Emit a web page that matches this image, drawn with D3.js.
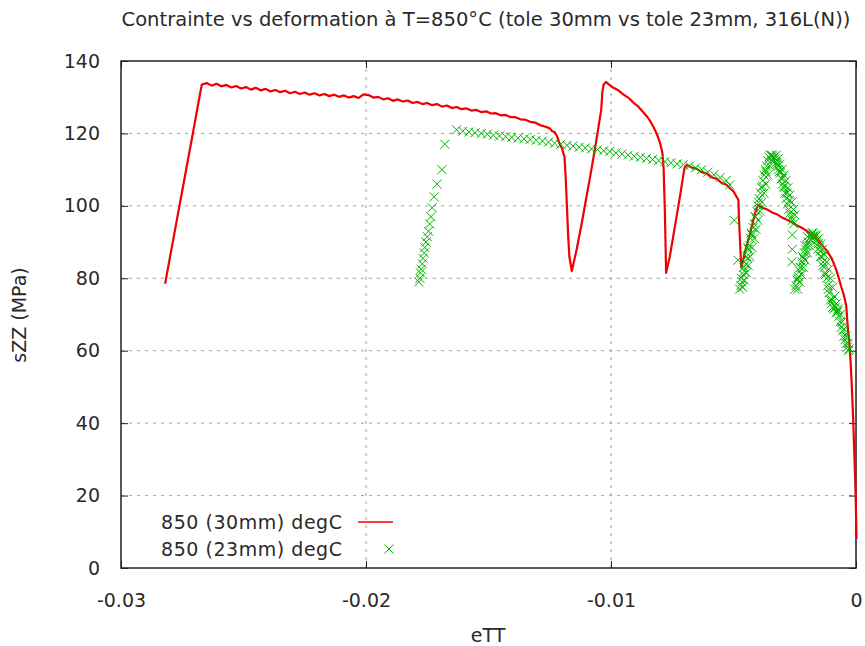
<!DOCTYPE html>
<html lang="fr">
<head>
	<meta charset="UTF-8">
	<title>Contrainte vs deformation</title>
	<style>
		body{margin:0;background:#fff;}
		text{font-family:"DejaVu Sans",sans-serif;fill:#2a2a2a;}
	</style>
</head>
<body>
<script src="https://cdn.jsdelivr.net/npm/d3@7/dist/d3.min.js"></script>
<script>
	// eTT / sZZ, tole 30mm (ligne rouge)
	var eTT30=[-0.0282,-0.0279,-0.0276,-0.0273,-0.0270,-0.0268,-0.0267,
		-0.0265,-0.0263,-0.0261,-0.0259,-0.0257,-0.0255,-0.0253,-0.0251,-0.0249,-0.0247,
		-0.0245,-0.0243,-0.0241,-0.0239,-0.0237,-0.0235,-0.0233,-0.0231,-0.0229,-0.0227,
		-0.0225,-0.0223,-0.0221,-0.0219,-0.0217,-0.0215,-0.0213,-0.0211,-0.0209,-0.0207,
		-0.0205,-0.0203,-0.0201,-0.0199,-0.0197,-0.0195,-0.0193,-0.0191,-0.0189,-0.0187,
		-0.0185,-0.0183,-0.0181,-0.0179,-0.0177,-0.0175,-0.0173,-0.0171,-0.0169,-0.0167,
		-0.0165,-0.0163,-0.0161,-0.0159,-0.0157,-0.0155,-0.0153,-0.0151,-0.0149,-0.0147,
		-0.0145,-0.0143,-0.0141,-0.0139,-0.0137,-0.0135,-0.0133,-0.0131,-0.0129,-0.0127,
		-0.0125,-0.0124,-0.0123,-0.0122,-0.0121,-0.0120,-0.0119,-0.01185,-0.0118,-0.01175,-0.0117,-0.0116,
		-0.0114,-0.0112,-0.0110,-0.0108,-0.0106,-0.0104,-0.01035,-0.0103,-0.0102,-0.0101,
		-0.0099,-0.0097,-0.0095,-0.0093,-0.0091,-0.0089,-0.0087,-0.0085,-0.0084,-0.0083,-0.0082,
		-0.0081,-0.0080,-0.0079,-0.00785,-0.0078,-0.00775,
		-0.0076,-0.0074,-0.0072,-0.0070,-0.0069,
		-0.0067,-0.0065,-0.0063,-0.0061,-0.0059,-0.0057,-0.0055,-0.0053,-0.0051,-0.0050,-0.0049,-0.0048,
		-0.00478,-0.00472,-0.00468,
		-0.0045,-0.0043,-0.0041,-0.0040,
		-0.0038,-0.0036,-0.0034,-0.0032,-0.0030,-0.0028,-0.0026,-0.0024,-0.0022,-0.0020,-0.0018,
		-0.0016,-0.0014,-0.0012,-0.0010,-0.0009,-0.0008,-0.0007,-0.0006,-0.0005,-0.0004,
		-0.00033,-0.00027,-0.00022,-0.00017,-0.00012,-0.00008,-0.00004,-0.00001,0.00001,0.00002];
	var sZZ30=[78.5,89.5,100.5,111.5,122.5,130,133.5,
		133.9,133.2,133.7,133.0,133.4,132.7,133.1,132.4,132.8,132.1,
		132.6,131.9,132.3,131.6,132.0,131.4,131.8,131.1,131.5,130.9,
		131.3,130.7,131.1,130.5,130.9,130.3,130.7,130.1,130.5,129.9,
		130.3,129.8,130.8,130.6,129.9,130.1,129.4,129.7,129.0,129.4,
		128.8,129.1,128.4,128.7,128.1,128.4,127.8,128.1,127.4,127.7,
		127.0,127.3,126.7,126.9,126.3,126.5,125.9,126.1,125.5,125.6,
		125.0,125.1,124.5,124.5,123.9,123.8,123.2,123.0,122.3,121.9,
		121.4,120.6,120.4,119.2,117.2,115.8,113.6,108,100,92,86,82,
		88,95,102.5,110,118,126.5,131.5,133.5,134.2,133.6,
		132.6,131.9,130.8,129.9,128.6,127.5,126,124.4,123.4,122.2,120.9,
		119.3,117.4,114.6,110,98,81.5,
		86,94,102,110.5,111.3,
		110.6,110.2,109.3,108.9,107.9,107.5,106.4,105.9,104.6,104.0,102.8,101.6,
		97,88,83,
		88,93,98.5,100.2,
		99.4,98.9,98.1,97.6,96.7,96.1,95.4,94.6,93.9,93.0,92.0,
		90.6,89.3,87.7,85.6,84.0,82.2,80,77.6,75.5,72.5,
		66,62,57,50,42,34,26,18,12,8];

	// eTT / sZZ, tole 23mm (croix vertes)
	var eTT23=[-0.01785,-0.0178,-0.01778,-0.01775,-0.0177,-0.01767,-0.01762,-0.0176,-0.01755,-0.0175,
		-0.01745,-0.0174,-0.01735,-0.0173,-0.01722,-0.0171,-0.0169,-0.01678,
		-0.0163,-0.01605,-0.0158,-0.01555,-0.0153,-0.01505,-0.0148,-0.01455,-0.0143,-0.01405,
		-0.0138,-0.01355,-0.0133,-0.01305,-0.0128,-0.01255,-0.0123,-0.01205,-0.0118,-0.01155,
		-0.0113,-0.01105,-0.0108,-0.01055,-0.0103,-0.01005,-0.0098,-0.00955,-0.0093,-0.00905,
		-0.0088,-0.00855,-0.0083,-0.00805,-0.0078,-0.00755,-0.0073,-0.00705,-0.0068,-0.00655,
		-0.0063,-0.00605,-0.0058,-0.00555,-0.0053,-0.00515,
		-0.00497,-0.00482,
		-0.00475,-0.0047,-0.00468,-0.00465,-0.0046,-0.00458,-0.00455,-0.0045,-0.00447,-0.00443,
		-0.0044,-0.00435,-0.0043,-0.00425,-0.0042,-0.00415,-0.0041,-0.00405,-0.004,-0.00395,
		-0.0039,-0.00385,-0.0038,-0.00375,-0.0037,-0.00365,-0.0036,-0.00355,-0.0035,-0.00345,-0.0034,
		-0.00442,-0.00428,-0.00412,-0.00398,-0.00382,-0.00368,
		-0.00462,-0.00455,-0.00448,-0.0044,-0.00432,-0.00424,-0.00416,-0.00408,-0.004,-0.00392,
		-0.00384,-0.00376,-0.00368,-0.0036,-0.00352,-0.00344,
		-0.00335,-0.0033,-0.00325,-0.0032,-0.00315,-0.0031,-0.00305,-0.003,-0.00295,-0.0029,
		-0.00285,-0.0028,-0.00275,-0.0027,-0.00265,-0.0026,-0.00255,
		-0.00322,-0.00312,-0.00302,-0.00292,-0.00282,-0.00272,
		-0.00325,-0.00318,-0.0031,-0.00302,-0.00294,-0.00286,-0.00278,-0.0027,-0.00262,-0.00255,-0.0025,
		-0.0026,-0.0026,-0.00262,
		-0.0025,-0.00245,-0.0024,-0.00235,-0.0023,-0.00225,-0.0022,-0.00215,-0.0021,-0.00205,
		-0.002,-0.00195,-0.0019,-0.00185,-0.0018,-0.00175,-0.0017,
		-0.00238,-0.00228,-0.00218,-0.00208,-0.00198,
		-0.00238,-0.0023,-0.00222,-0.00214,-0.00206,-0.00198,-0.0019,-0.00182,-0.00174,
		-0.00165,-0.0016,-0.00155,-0.0015,-0.00145,-0.0014,-0.00135,-0.0013,-0.00125,-0.0012,
		-0.00115,-0.0011,-0.00105,-0.001,-0.00095,-0.0009,-0.00085,-0.0008,-0.00075,-0.0007,
		-0.00065,-0.0006,-0.00055,-0.0005,-0.00045,-0.0004,-0.00035,-0.0003,
		-0.00155,-0.00145,-0.00135,-0.00125,-0.00112,-0.00098,-0.00088,-0.00078,
		-0.0016,-0.00152,-0.00144,-0.00136,-0.00128,-0.0012,-0.00112,-0.00104,-0.00096,
		-0.00088,-0.0008,-0.00072,-0.00064,-0.00056,-0.00048,-0.0004,-0.00032,-0.00028];
	var sZZ23=[79,80,81.5,82.5,84,85.5,87,88.5,90,91.5,
		93,95,97,99.5,102.5,106,110,117,
		121,120.6,120.4,120.2,120,119.8,119.5,119.3,119.1,118.9,
		118.7,118.5,118.3,118.1,117.9,117.6,117.3,117,116.7,116.5,
		116.2,116,115.7,115.5,115.2,115,114.6,114.3,114,113.7,
		113.4,113.1,112.8,112.5,112.2,111.9,111.6,111.4,111,110.5,
		110,109.3,108.6,107.8,107,105.8,
		96,85,
		77,78,80,79,81,83,82,84,86,85.5,
		88,89,91,92,94,95,97,98.5,100,102,
		103.5,105,107,108.5,110,111,112.5,113.5,114,114,113.8,
		88.5,92.5,97,101,105.5,109.5,
		77.5,79.5,81.5,83.5,86,88.5,91,93.5,96,98.5,
		101,103.5,106,108.5,111,112.5,
		113.5,113,112,111,110,109,107.5,106,105,103.5,
		102,100.5,99,98,97,96,95,
		111.5,109.5,107.5,105.5,103.5,101.5,
		114,113,111.5,110,108.5,107,105,103,101,99,97.5,
		92,88,84.5,
		77,78,79.5,80.5,82,83,84.5,85.5,87,88,
		89,90,91,91.5,92.5,92.5,92,
		80,83,86,89,91.5,
		77,79,81,83,85,87,89,90.5,91.5,
		91.5,90.5,89.5,88.5,87.5,86,84.5,83,81.5,80,
		78,76,74,73,72,71.5,72,70.5,71,69.5,
		68,66.5,65.5,64,63,62,61,60,
		88,86,83.5,81,77,74,72.5,70.5,
		92,91,89.5,88,86.5,84.5,82.5,80,77.5,
		75,73,71.5,70,68,66,64,62,60.5];

	var xTicks=[-0.03,-0.02,-0.01,0];
	var yTicks=[0,20,40,60,80,100,120,140];
	var xTickLabels=["-0.03","-0.02","-0.01","0"];

	var width=865;
	var height=646;
	var padding={top:61,left:121,right:9,bottom:78};
	var plotW=width-padding.left-padding.right;
	var plotH=height-padding.top-padding.bottom;

	var svg=d3.select('body')
			.append('svg')
			.attr('width',width)
			.attr('height',height);

	var xScale=d3.scaleLinear()
			.domain([-0.03,0])
			.range([padding.left,padding.left+plotW]);
	var yScale=d3.scaleLinear()
			.domain([0,140])
			.range([padding.top+plotH,padding.top]);

	// grille pointillee
	var grid=svg.append('g').attr('class','grid');
	grid.selectAll('.hgrid')
		.data(yTicks.slice(1,-1))
		.enter()
		.append('line')
		.attr('class','hgrid')
		.attr('x1',xScale(-0.03))
		.attr('x2',xScale(0))
		.attr('y1',function(d){ return yScale(d); })
		.attr('y2',function(d){ return yScale(d); })
		.attr('stroke','#a0a0a0')
		.attr('stroke-width',1)
		.attr('stroke-dasharray','3,5');
	grid.selectAll('.vgrid')
		.data(xTicks.slice(1,-1))
		.enter()
		.append('line')
		.attr('class','vgrid')
		.attr('x1',function(d){ return xScale(d); })
		.attr('x2',function(d){ return xScale(d); })
		.attr('y1',yScale(0))
		.attr('y2',yScale(140))
		.attr('stroke','#a0a0a0')
		.attr('stroke-width',1)
		.attr('stroke-dasharray','3,5');

	// axes (graduations vers l'interieur)
	var xAxis=d3.axisBottom(xScale)
			.tickValues(xTicks)
			.tickSize(-7)
			.tickPadding(26)
			.tickFormat(function(d,i){ return xTickLabels[i]; });
	var yAxis=d3.axisLeft(yScale)
			.tickValues(yTicks)
			.tickSize(-7)
			.tickPadding(21);
	var xAxisTop=d3.axisTop(xScale).tickValues(xTicks).tickSize(-7).tickFormat('');
	var yAxisRight=d3.axisRight(yScale).tickValues(yTicks).tickSize(-7).tickFormat('');

	svg.append('g')
		.attr('class','xAxis')
		.attr('transform','translate(0,'+yScale(0)+')')
		.call(xAxis);
	svg.append('g')
		.attr('class','yAxis')
		.attr('transform','translate('+xScale(-0.03)+',0)')
		.call(yAxis);
	svg.append('g')
		.attr('transform','translate(0,'+yScale(140)+')')
		.call(xAxisTop);
	svg.append('g')
		.attr('transform','translate('+xScale(0)+',0)')
		.call(yAxisRight);

	svg.selectAll('.domain').remove();
	svg.selectAll('.tick line').attr('stroke','#222').attr('stroke-width',1);
	svg.selectAll('.tick text')
		.attr('font-family','DejaVu Sans')
		.attr('font-size','19px')
		.attr('fill','#2a2a2a');

	svg.append('rect')
		.attr('x',xScale(-0.03))
		.attr('y',yScale(140))
		.attr('width',xScale(0)-xScale(-0.03))
		.attr('height',yScale(0)-yScale(140))
		.attr('fill','none')
		.attr('stroke','#222')
		.attr('stroke-width',1.5);

	// courbe 30mm
	var pts30=eTT30.map(function(d,i){ return [d,sZZ30[i]]; });
	var line=d3.line()
			.x(function(d){ return xScale(d[0]); })
			.y(function(d){ return yScale(d[1]); });
	svg.append('path')
		.datum(pts30)
		.attr('d',line)
		.attr('fill','none')
		.attr('stroke','#f00000')
		.attr('stroke-width',2.2)
		.attr('stroke-linejoin','round');

	// croix 23mm
	var pts23=eTT23.map(function(d,i){ return [d,sZZ23[i]]; });
	var cross='M-4.5,-4.5L4.5,4.5M-4.5,4.5L4.5,-4.5';
	svg.selectAll('.pt23')
		.data(pts23)
		.enter()
		.append('path')
		.attr('class','pt23')
		.attr('transform',function(d){ return 'translate('+xScale(d[0])+','+yScale(d[1])+')'; })
		.attr('d',cross)
		.attr('fill','none')
		.attr('stroke','#00b400')
		.attr('stroke-width',1);

	// legende
	var legend=svg.append('g').attr('class','legend');
	legend.append('text')
		.attr('x',342)
		.attr('y',529)
		.attr('text-anchor','end')
		.attr('font-size','19px')
		.attr('textLength',181)
		.text('850 (30mm) degC');
	legend.append('line')
		.attr('x1',358).attr('x2',393)
		.attr('y1',522).attr('y2',522)
		.attr('stroke','#f00000')
		.attr('stroke-width',1.5);
	legend.append('text')
		.attr('x',342)
		.attr('y',556)
		.attr('text-anchor','end')
		.attr('font-size','19px')
		.attr('textLength',181)
		.text('850 (23mm) degC');
	legend.append('path')
		.attr('transform','translate(389,549)')
		.attr('d',cross)
		.attr('fill','none')
		.attr('stroke','#00b400')
		.attr('stroke-width',1);

	// titres
	svg.append('text')
		.attr('x',486)
		.attr('y',26)
		.attr('text-anchor','middle')
		.attr('font-size','19px')
		.attr('textLength',729)
		.attr('lengthAdjust','spacingAndGlyphs')
		.text('Contrainte vs deformation à T=850°C (tole 30mm vs tole 23mm, 316L(N))');
	svg.append('text')
		.attr('x',488)
		.attr('y',642)
		.attr('text-anchor','middle')
		.attr('font-size','19px')
		.text('eTT');
	svg.append('text')
		.attr('transform','translate(26,315) rotate(-90)')
		.attr('text-anchor','middle')
		.attr('font-size','19px')
		.text('sZZ (MPa)');
</script>
</body>
</html>
